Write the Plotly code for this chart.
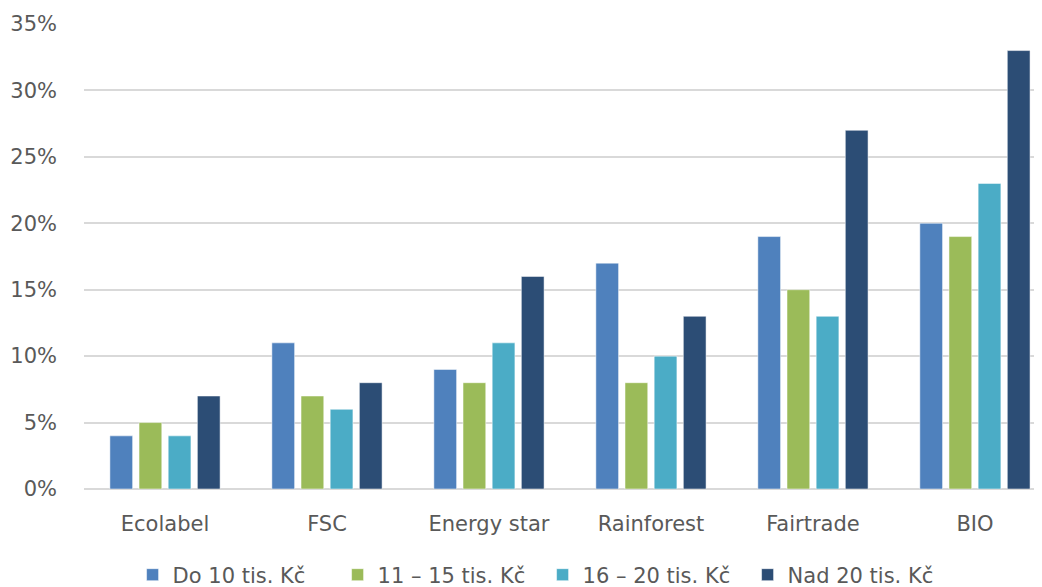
import plotly.graph_objects as go

categories = ["Ecolabel", "FSC", "Energy star", "Rainforest", "Fairtrade", "BIO"]
series_names = ["Do 10 tis. Kč", "11 – 15 tis. Kč", "16 – 20 tis. Kč", "Nad 20 tis. Kč"]
do10 = [0.04, 0.11, 0.09, 0.17, 0.19, 0.20]
s11_15 = [0.05, 0.07, 0.08, 0.08, 0.15, 0.19]
s16_20 = [0.04, 0.06, 0.11, 0.10, 0.13, 0.23]
nad20 = [0.07, 0.08, 0.16, 0.13, 0.27, 0.33]
colors = ["#4F81BD", "#9BBB59", "#4BACC6", "#2C4D75"]
y_ticks = [0, 0.05, 0.10, 0.15, 0.20, 0.25, 0.30, 0.35]

fig = go.Figure()
for name, vals, col in zip(series_names, [do10, s11_15, s16_20, nad20], colors):
    fig.add_trace(go.Bar(
        x=categories, y=vals, name=name,
        marker=dict(color=col, line=dict(color="rgba(255,255,255,0.5)", width=1)),
    ))

font = "DejaVu Sans"
fs = 21
fig.update_layout(
    width=1034, height=579,
    margin=dict(l=76, r=0, t=16, b=98),
    paper_bgcolor="white", plot_bgcolor="white",
    barmode="group", bargap=0.28, bargroupgap=0.22,
    font=dict(family=font, size=fs, color="#595959"),
    showlegend=True,
    legend=dict(orientation="h", xref="container", yref="container",
                x=0.517, xanchor="center", y=0.0207, yanchor="middle",
                font=dict(size=fs, color="#595959"), itemwidth=30,
                entrywidth=160, entrywidthmode="pixels",
                traceorder="normal"),
    xaxis=dict(range=[-0.5, 5.414], showgrid=False, showline=False,
               ticks="", ticklabelstandoff=20, tickfont=dict(size=fs)),
    yaxis=dict(range=[0, 0.35], tickvals=y_ticks, tickformat=".0%",
               showgrid=True, gridcolor="#D9D9D9", gridwidth=2,
               zeroline=True, zerolinecolor="#D9D9D9", zerolinewidth=2,
               showline=False, ticks="", ticklabelstandoff=26,
               tickfont=dict(size=fs)),
)
fig.write_html("out.html")
